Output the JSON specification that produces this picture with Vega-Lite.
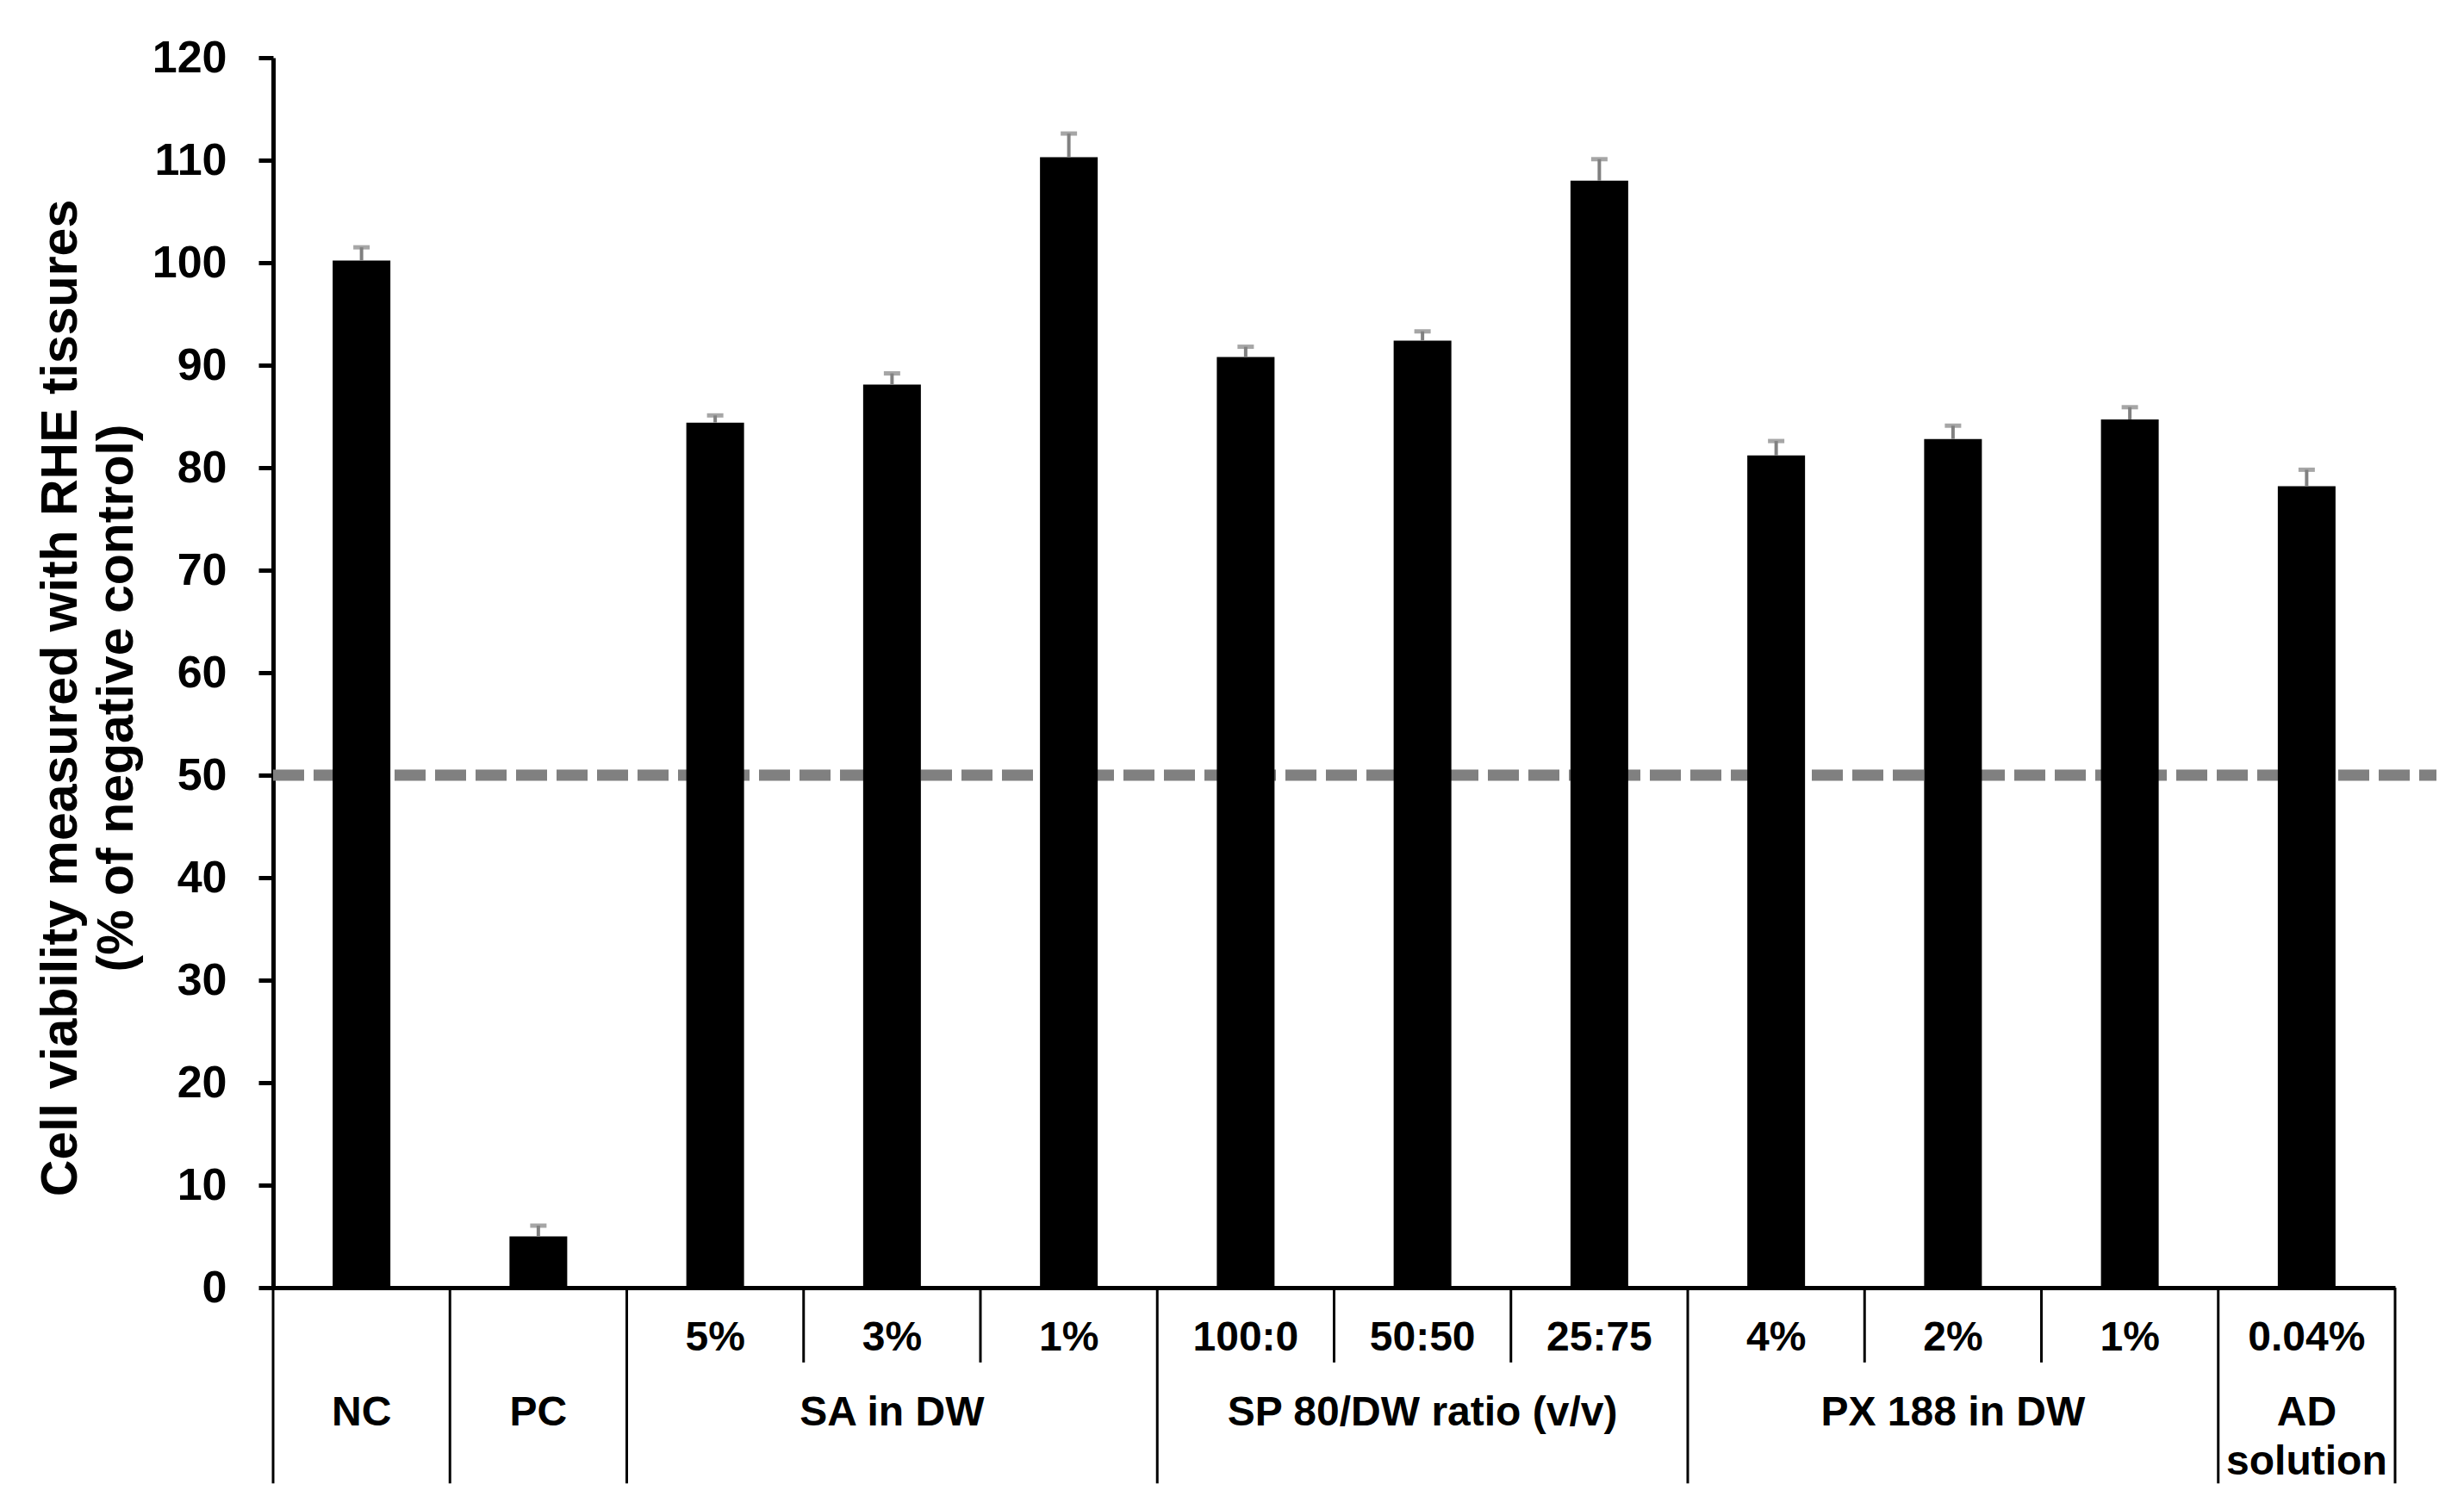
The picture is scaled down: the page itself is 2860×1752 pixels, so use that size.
{
  "$schema": "https://vega.github.io/schema/vega-lite/v6.json",
  "width": 2463,
  "height": 1428,
  "autosize": {"type": "none"},
  "padding": {"left": 317, "top": 67, "right": 80, "bottom": 257},
  "background": "white",
  "config": {"view": {"stroke": null}, "font": "Liberation Sans"},
  "datasets": {
    "bars": [
      {"id": "NC", "value": 100.2, "upper": 101.5},
      {"id": "PC", "value": 5.0, "upper": 6.05},
      {"id": "SA|5%", "value": 84.4, "upper": 85.1},
      {"id": "SA|3%", "value": 88.1, "upper": 89.2},
      {"id": "SA|1%", "value": 110.3, "upper": 112.6},
      {"id": "SP|100:0", "value": 90.8, "upper": 91.8},
      {"id": "SP|50:50", "value": 92.4, "upper": 93.3},
      {"id": "SP|25:75", "value": 108.0, "upper": 110.1},
      {"id": "PX|4%", "value": 81.2, "upper": 82.6},
      {"id": "PX|2%", "value": 82.8, "upper": 84.1},
      {"id": "PX|1%", "value": 84.7, "upper": 85.9},
      {"id": "AD|0.04%", "value": 78.2, "upper": 79.8}
    ],
    "groups": [
      {"id": "NC", "group": "NC"},
      {"id": "PC", "group": "PC"},
      {"id": "SA|3%", "group": "SA in DW"},
      {"id": "SP|50:50", "group": "SP 80/DW ratio (v/v)"},
      {"id": "PX|2%", "group": "PX 188 in DW"},
      {"id": "AD|0.04%", "group": "AD\nsolution"}
    ],
    "bounds": [
      {"id": "NC", "kind": "group"},
      {"id": "PC", "kind": "group"},
      {"id": "SA|5%", "kind": "group"},
      {"id": "SA|3%", "kind": "item"},
      {"id": "SA|1%", "kind": "item"},
      {"id": "SP|100:0", "kind": "group"},
      {"id": "SP|50:50", "kind": "item"},
      {"id": "SP|25:75", "kind": "item"},
      {"id": "PX|4%", "kind": "group"},
      {"id": "PX|2%", "kind": "item"},
      {"id": "PX|1%", "kind": "item"},
      {"id": "AD|0.04%", "kind": "group"}
    ],
    "threshold": [{"level": 50}]
  },
  "layer": [
    {
      "data": {"name": "threshold"},
      "mark": {"type": "rule", "color": "#808080", "strokeWidth": 13, "strokeDash": [36, 11]},
      "encoding": {
        "x": {"datum": "NC", "bandPosition": 0, "scale": {"type": "band", "paddingInner": 0, "paddingOuter": 0, "domain": ["NC", "PC", "SA|5%", "SA|3%", "SA|1%", "SP|100:0", "SP|50:50", "SP|25:75", "PX|4%", "PX|2%", "PX|1%", "AD|0.04%"]}},
        "x2": {"datum": "AD|0.04%", "bandPosition": 1.234},
        "y": {"field": "level", "type": "quantitative", "scale": {"domain": [0, 120], "nice": false}}
      }
    },
    {
      "data": {"name": "bars"},
      "mark": {"type": "bar", "color": "black", "width": 67},
      "encoding": {
        "x": {
          "field": "id", "type": "nominal",
          "scale": {"type": "band", "paddingInner": 0, "paddingOuter": 0, "domain": ["NC", "PC", "SA|5%", "SA|3%", "SA|1%", "SP|100:0", "SP|50:50", "SP|25:75", "PX|4%", "PX|2%", "PX|1%", "AD|0.04%"]},
          "axis": {
            "title": null, "domainWidth": 5, "domainColor": "black", "ticks": false, "grid": false,
            "bandPosition": 0.5, "labelAlign": "center",
            "labelExpr": "indexof(datum.label,'|')>=0 ? split(datum.label,'|')[1] : ''",
            "labelFont": "Liberation Sans", "labelFontSize": 48, "labelFontWeight": "bold",
            "labelColor": "black", "labelPadding": 58, "labelBaseline": "middle", "labelAngle": 0,
            "labelOverlap": false, "labelLimit": 400
          }
        },
        "y": {
          "field": "value", "type": "quantitative",
          "scale": {"domain": [0, 120], "nice": false},
          "axis": {
            "title": ["Cell viability measured with RHE tissures", "(% of negative control)"],
            "values": [0, 10, 20, 30, 40, 50, 60, 70, 80, 90, 100, 110, 120],
            "grid": false, "domainWidth": 5, "domainColor": "black",
            "tickSize": 17, "tickWidth": 5, "tickColor": "black",
            "labelFont": "Liberation Sans", "labelFontSize": 52, "labelFontWeight": "bold",
            "labelColor": "black", "labelPadding": 37,
            "titleFont": "Liberation Sans", "titleFontSize": 59, "titleFontWeight": "bold",
            "titleColor": "black", "titleLineHeight": 65, "titleAngle": -90,
            "titleAlign": "center", "titleBaseline": "middle", "titleX": -247, "titleY": 743
          }
        }
      }
    },
    {
      "data": {"name": "bars"},
      "mark": {"type": "rule", "color": "#808080", "strokeWidth": 4},
      "encoding": {
        "x": {"field": "id", "type": "nominal"},
        "y": {"field": "value", "type": "quantitative", "scale": {"domain": [0, 120], "nice": false}},
        "y2": {"field": "upper"}
      }
    },
    {
      "data": {"name": "bars"},
      "mark": {"type": "tick", "color": "#808080", "thickness": 5, "size": 19, "orient": "horizontal"},
      "encoding": {
        "x": {"field": "id", "type": "nominal"},
        "y": {"field": "upper", "type": "quantitative", "scale": {"domain": [0, 120], "nice": false}}
      }
    },
    {
      "data": {"name": "bounds"},
      "transform": [{"filter": "datum.kind === 'group'"}],
      "mark": {"type": "rule", "color": "black", "strokeWidth": 3},
      "encoding": {
        "x": {"field": "id", "type": "nominal", "bandPosition": 0},
        "y": {"datum": 0, "scale": {"domain": [0, 120], "nice": false}},
        "y2": {"datum": -19.1}
      }
    },
    {
      "data": {"name": "bounds"},
      "transform": [{"filter": "datum.kind === 'item'"}],
      "mark": {"type": "rule", "color": "black", "strokeWidth": 3},
      "encoding": {
        "x": {"field": "id", "type": "nominal", "bandPosition": 0},
        "y": {"datum": 0, "scale": {"domain": [0, 120], "nice": false}},
        "y2": {"datum": -7.3}
      }
    },
    {
      "data": {"name": "bounds"},
      "transform": [{"filter": "datum.id === 'AD|0.04%'"}],
      "mark": {"type": "rule", "color": "black", "strokeWidth": 3},
      "encoding": {
        "x": {"field": "id", "type": "nominal", "bandPosition": 1},
        "y": {"datum": 0, "scale": {"domain": [0, 120], "nice": false}},
        "y2": {"datum": -19.1}
      }
    },
    {
      "data": {"name": "groups"},
      "mark": {"type": "text", "font": "Liberation Sans", "fontSize": 48, "fontWeight": "bold", "color": "black", "baseline": "top", "align": "center", "dy": 122, "lineBreak": "\n", "lineHeight": 57},
      "encoding": {
        "x": {"field": "id", "type": "nominal"},
        "y": {"datum": 0, "scale": {"domain": [0, 120], "nice": false}},
        "text": {"field": "group", "type": "nominal"}
      }
    }
  ]
}
